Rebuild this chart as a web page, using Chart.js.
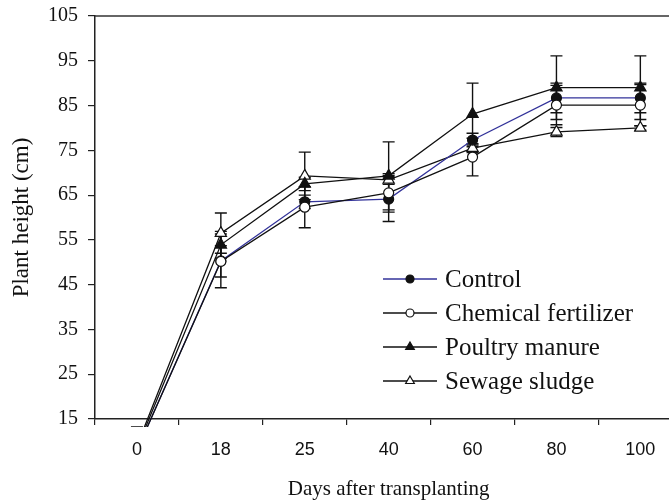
<!DOCTYPE html>
<html lang="en">

<head>
    <meta charset="UTF-8">
    <title>Plant height</title>
    <style>
        html, body { margin: 0; padding: 0; overflow: hidden; background: #fff; }
        canvas { display: block; }
    </style>
</head>

<body>
    <canvas id="myChart" width="690" height="502"></canvas>

    <script src="https://cdn.jsdelivr.net/npm/chart.js"></script>
    <script>
        // days after transplanting
        var dias = ['0', '18', '25', '40', '60', '80', '100'];

        var control = [8, 50.3, 63.5, 64.1, 77.3, 86.7, 86.7];
        var chemical = [8, 50.2, 62.3, 65.5, 73.5, 85.1, 85.1];
        var poultry = [8.5, 53.9, 67.5, 69.3, 83.1, 89, 89];
        var sewage = [9, 56.5, 69.3, 68.4, 75.5, 79.1, 80];

        // error bars (+/-)
        var controlErr = [5.2, 6, 1.5, 5, 1.5, 3.3, 3.3];
        var chemicalErr = [5, 3.5, 4.6, 4.3, 4.2, 4.4, 4.6];
        var poultryErr = [4, 3, 1.5, 7.6, 6.9, 7.1, 7.1];
        var sewageErr = [4, 4.5, 5.3, 1, 1, 1, 0.5];

        var yTicks = [15, 25, 35, 45, 55, 65, 75, 85, 95, 105];

        var serif = "'Liberation Serif', 'Times New Roman', serif";
        var sans = "'Liberation Sans', Arial, sans-serif";

        function serie(nome, dados, erros, cor, estilo, fundo, raio, ordem) {
            return {
                label: nome,
                data: dados,
                erros: erros,
                order: ordem,
                borderColor: cor,
                borderWidth: 1.3,
                pointStyle: estilo,
                pointBackgroundColor: fundo,
                pointBorderColor: '#111',
                pointBorderWidth: 1.2,
                pointRadius: [0, raio, raio, raio, raio, raio, raio],
                pointHoverRadius: raio,
                tension: 0,
                clip: { left: 0, top: 0, right: 0, bottom: 8 }
            };
        }

        var errorBars = {
            id: 'errorBars',
            beforeDatasetsDraw: function (chart) {
                var ctx = chart.ctx;
                var y = chart.scales.y;
                var area = chart.chartArea;
                ctx.save();
                ctx.beginPath();
                ctx.rect(area.left, area.top, area.right - area.left, area.bottom - area.top + 8);
                ctx.clip();
                ctx.strokeStyle = '#111';
                ctx.lineWidth = 1.4;
                chart.data.datasets.forEach(function (ds, i) {
                    var meta = chart.getDatasetMeta(i);
                    ds.data.forEach(function (v, j) {
                        var x = meta.data[j].x;
                        var y1 = y.getPixelForValue(v + ds.erros[j]);
                        var y2 = y.getPixelForValue(v - ds.erros[j]);
                        ctx.beginPath();
                        ctx.moveTo(x, y1); ctx.lineTo(x, y2);
                        ctx.moveTo(x - 6, y1); ctx.lineTo(x + 6, y1);
                        ctx.moveTo(x - 6, y2); ctx.lineTo(x + 6, y2);
                        ctx.stroke();
                    });
                });
                ctx.restore();
            },
            afterDraw: function (chart) {
                var ctx = chart.ctx;
                var area = chart.chartArea;
                ctx.save();
                // top frame line
                ctx.strokeStyle = '#333';
                ctx.lineWidth = 1.5;
                ctx.beginPath();
                ctx.moveTo(area.left, area.top);
                ctx.lineTo(chart.width, area.top);
                ctx.stroke();

                // legend
                var lx = 383, ly = 279, passo = 34;
                chart.data.datasets.forEach(function (ds, i) {
                    var yy = ly + i * passo;
                    ctx.strokeStyle = ds.borderColor;
                    ctx.lineWidth = 1.3;
                    ctx.beginPath();
                    ctx.moveTo(lx, yy); ctx.lineTo(lx + 54, yy);
                    ctx.stroke();
                    ctx.fillStyle = ds.pointBackgroundColor;
                    ctx.strokeStyle = '#111';
                    ctx.lineWidth = 1.2;
                    var r = ds.pointStyle === 'circle' ? 4 : 5;
                    Chart.helpers.drawPoint(ctx, { pointStyle: ds.pointStyle, radius: r, borderWidth: 1.2 }, lx + 27, yy);
                    ctx.fillStyle = '#111';
                    ctx.font = '25px ' + serif;
                    ctx.textBaseline = 'middle';
                    ctx.fillText(ds.label, lx + 62, yy + 1);
                });
                ctx.restore();
            }
        };

        var ctx = document.getElementById('myChart').getContext('2d');

        new Chart(ctx, {
            type: 'line',
            data: {
                labels: dias,
                datasets: [
                    serie('Control', control, controlErr, '#33339a', 'circle', '#111', 5, 3),
                    serie('Chemical fertilizer', chemical, chemicalErr, '#111', 'circle', '#fff', 5, 1),
                    serie('Poultry manure', poultry, poultryErr, '#111', 'triangle', '#111', 6.5, 2),
                    serie('Sewage sludge', sewage, sewageErr, '#111', 'triangle', '#fff', 6.5, 4)
                ]
            },
            plugins: [errorBars],
            options: {
                responsive: false,
                animation: false,
                layout: { padding: { top: 16, right: 7, left: 0, bottom: 0 } },
                plugins: {
                    legend: { display: false },
                    tooltip: { enabled: false }
                },
                scales: {
                    x: {
                        offset: true,
                        afterFit: function (s) { s.height = 83; s.paddingLeft = 0; s.paddingRight = 0; },
                        border: { color: '#222', width: 1.5 },
                        grid: { offset: true, drawOnChartArea: false, drawTicks: true, tickLength: 6, color: '#222', lineWidth: 1.2 },
                        ticks: { color: '#111', padding: 14, font: { family: sans, size: 18 }, maxRotation: 0 },
                        title: { display: true, text: 'Days after transplanting', color: '#111', font: { family: serif, size: 21 }, padding: { top: 0, bottom: 0 } }
                    },
                    y: {
                        min: 15,
                        max: 105,
                        afterFit: function (s) { s.width = 95; s.paddingTop = 0; s.paddingBottom = 0; },
                        afterBuildTicks: function (s) { s.ticks = yTicks.map(function (v) { return { value: v }; }); },
                        border: { color: '#222', width: 1.5 },
                        grid: { drawOnChartArea: false, drawTicks: true, tickLength: 7, color: '#222', lineWidth: 1.2 },
                        ticks: { color: '#111', padding: 10, font: { family: serif, size: 20 } },
                        title: { display: true, text: 'Plant height (cm)', color: '#111', font: { family: serif, size: 23 }, padding: { top: 8, bottom: 0 } }
                    }
                }
            }
        });
    </script>
</body>

</html>
